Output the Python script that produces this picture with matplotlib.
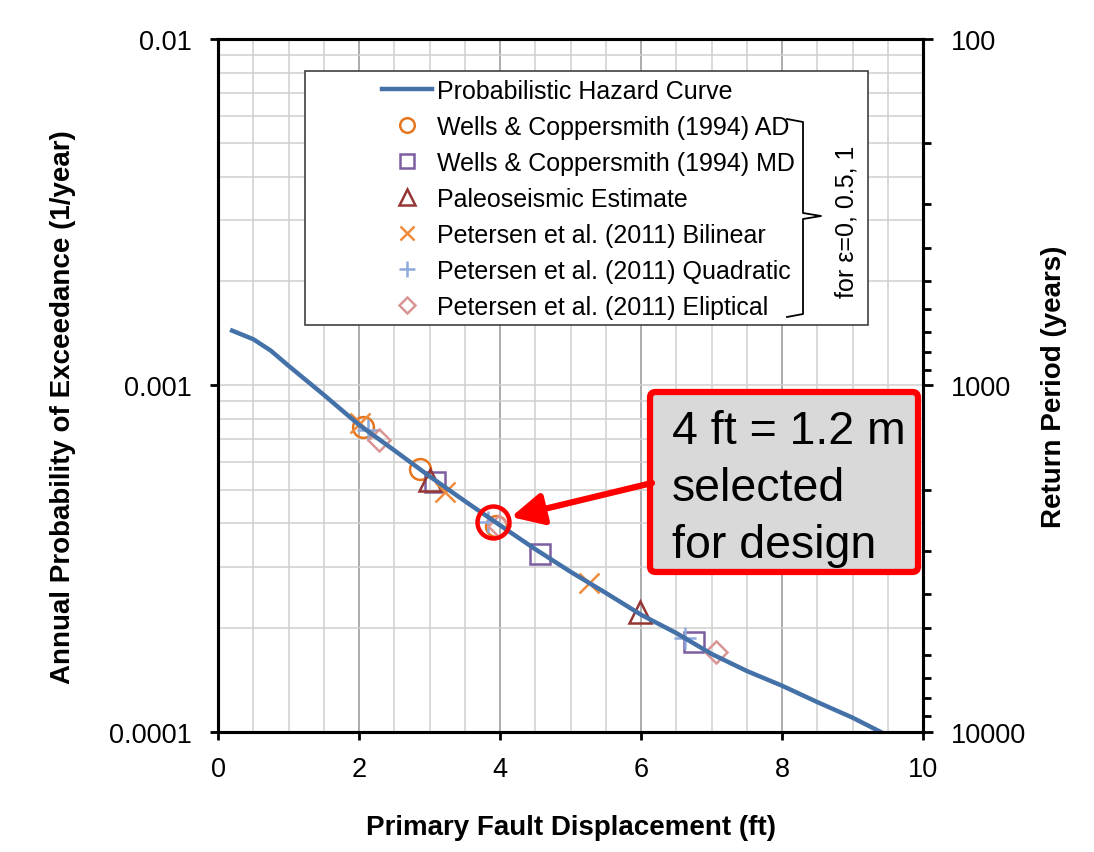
import numpy as np
import matplotlib
matplotlib.use("Agg")
import matplotlib.pyplot as plt
from matplotlib.patches import FancyBboxPatch, Rectangle
from matplotlib.lines import Line2D
from matplotlib.ticker import FixedLocator, FuncFormatter, NullFormatter

plt.rcParams['font.family'] = ['Liberation Sans', 'DejaVu Sans']

# --- hazard curve (displacement ft vs annual probability of exceedance) ---
curve_x = [0.2, 0.5, 0.75, 1.0, 1.5, 2.0, 2.5, 3.0, 3.5, 4.0, 4.5, 5.0, 5.5,
           6.0, 6.5, 7.0, 7.5, 8.0, 8.5, 9.0, 9.4]
curve_p = [0.00144, 0.00136, 0.00126, 0.00114, 0.00094, 0.00077, 0.00065,
           0.000547, 0.000464, 0.000395, 0.000337, 0.00029, 0.000252,
           0.000218, 0.000193, 0.000168, 0.00015, 0.000136, 0.000122,
           0.00011, 0.0001]

# --- point estimates (eps = 0, 0.5, 1) ---
wc_ad_x = [2.06, 2.86, 3.95]
wc_ad_p = [0.00076, 0.000573, 0.000394]
wc_md_x = [3.08, 4.57, 6.75]
wc_md_p = [0.000525, 0.000327, 0.000182]
paleo_x = [3.0, 5.98]
paleo_p = [0.000535, 0.000222]
bilin_x = [2.02, 3.22, 5.26]
bilin_p = [0.00078, 0.000494, 0.00027]
quad_x = [2.13, 3.83, 6.63]
quad_p = [0.000746, 0.000405, 0.000187]
ellip_x = [2.29, 3.98, 7.07]
ellip_p = [0.000698, 0.000392, 0.00017]

selected_x = 3.9
selected_p = 0.000405

fig = plt.figure(figsize=(10.94, 8.53), dpi=100)
ax = fig.add_axes([0.1993, 0.1407, 0.6444, 0.8124])

mk = dict(linestyle='none', mfc='none', mew=1.8, zorder=3)
ax.plot(wc_ad_x, wc_ad_p, marker='o', ms=15, mec='#E5761E',
        label='Wells & Coppersmith (1994) AD', **mk)
ax.plot(wc_md_x, wc_md_p, marker='s', ms=14, mec='#7B5FA0',
        label='Wells & Coppersmith (1994) MD', **mk)
ax.plot(paleo_x, paleo_p, marker='^', ms=16, mec='#963634',
        label='Paleoseismic Estimate', **mk)
ax.plot(bilin_x, bilin_p, marker='x', ms=15, mec='#F08C3C',
        label='Petersen et al. (2011) Bilinear', **mk)
ax.plot(quad_x, quad_p, marker='+', ms=16, mec='#8FAADC',
        label='Petersen et al. (2011) Quadratic', **mk)
ax.plot(ellip_x, ellip_p, marker='D', ms=11, mec='#D99694',
        label='Petersen et al. (2011) Eliptical', **mk)
ax.plot(curve_x, curve_p, color='#4472A8', lw=3.2, zorder=4,
        label='Probabilistic Hazard Curve')

# selected point highlight
ax.plot([selected_x], [selected_p], marker='o', ms=23, mfc='none',
        mec='#FF0000', mew=3.2, zorder=6)

ax.set_yscale('log')
ax.set_xlim(0, 10)
ax.set_ylim(0.0001, 0.01)

ax.set_xticks(np.arange(0, 11, 2))
ax.xaxis.set_minor_locator(FixedLocator(np.arange(0, 10.01, 0.5)))
ax.yaxis.set_major_locator(FixedLocator([0.0001, 0.001, 0.01]))
minor_y = [m * 10.0 ** e for e in (-4, -3) for m in range(2, 10)]
ax.yaxis.set_minor_locator(FixedLocator(minor_y))
ax.yaxis.set_major_formatter(FuncFormatter(lambda v, _: f'{v:g}'))
ax.yaxis.set_minor_formatter(NullFormatter())

ax.grid(True, which='major', axis='x', color='#a6a6a6', lw=1.3, zorder=0)
ax.grid(True, which='minor', axis='x', color='#cfcfcf', lw=1.1, zorder=0)
ax.grid(True, which='both', axis='y', color='#cfcfcf', lw=1.1, zorder=0)
ax.set_axisbelow(True)

for s in ax.spines.values():
    s.set_linewidth(2.2)
    s.set_color('black')

ax.tick_params(axis='x', which='major', direction='out', length=6, width=2,
               labelsize=19.5, pad=11)
ax.tick_params(axis='x', which='minor', length=0)
ax.tick_params(axis='y', which='major', direction='out', length=6, width=2,
               labelsize=19.5, pad=13)
ax.tick_params(axis='y', which='minor', length=0)

ax.set_xlabel('Primary Fault Displacement (ft)', fontsize=20,
              fontweight='bold', labelpad=23)
ax.set_ylabel('Annual Probability of Exceedance (1/year)', fontsize=20,
              fontweight='bold')
ax.yaxis.set_label_coords(-0.2014, 0.47)

# right axis: return period
ax2 = ax.twinx()
ax2.set_yscale('log')
ax2.set_ylim(10000, 100)
ax2.yaxis.set_major_locator(FixedLocator([100, 1000, 10000]))
minor_r = [m * 10.0 ** e for e in (2, 3) for m in range(2, 10)]
ax2.yaxis.set_minor_locator(FixedLocator(minor_r))
ax2.yaxis.set_major_formatter(FuncFormatter(lambda v, _: f'{v:.0f}'))
ax2.yaxis.set_minor_formatter(NullFormatter())
ax2.tick_params(axis='y', which='major', direction='out', length=7, width=2,
                labelsize=19.5, pad=13)
ax2.tick_params(axis='y', which='minor', direction='out', length=6, width=2)
for s in ax2.spines.values():
    s.set_linewidth(2.2)
ax2.set_ylabel('Return Period (years)', fontsize=20, fontweight='bold',
               rotation=90, labelpad=11)

# legend frame and legend
ax.add_patch(Rectangle((0.123, 0.587), 0.799, 0.367, transform=ax.transAxes,
                       fc='white', ec='#404040', lw=1.2, zorder=7))
handles, labels = ax.get_legend_handles_labels()
order = [6, 0, 1, 2, 3, 4, 5]
leg = ax.legend([handles[i] for i in order], [labels[i] for i in order],
                loc='upper left', bbox_to_anchor=(0.2326, 0.943),
                frameon=False, fontsize=18, handlelength=2.0,
                handletextpad=0.2, labelspacing=0.48, borderpad=0,
                borderaxespad=0, markerscale=0.7)
leg.set_zorder(8)

# bracket for the epsilon note
bx = lambda px: (px - 218) / 705
by = lambda py: (733 - py) / 693
br_x = [787, 803, 803, 821, 803, 803, 787]
br_y = [120, 123, 214, 217, 220, 315, 318]
ax.add_line(Line2D([bx(v) for v in br_x], [by(v) for v in br_y],
                   transform=ax.transAxes, color='black', lw=1.3, zorder=9))
ax.text(bx(846), by(222), 'for ε=0, 0.5, 1', transform=ax.transAxes,
        rotation=90, ha='center', va='center', fontsize=18, zorder=9)

# callout box and arrow
ax.add_patch(FancyBboxPatch((bx(650), by(573)), bx(918) - bx(650),
                            by(393) - by(573), transform=ax.transAxes,
                            boxstyle='round,pad=0,rounding_size=0.008',
                            fc='#d9d9d9', ec='#FF0000', lw=4.5, zorder=7))
ax.text(bx(672), by(410), '4 ft = 1.2 m\nselected\nfor design',
        transform=ax.transAxes, ha='left', va='top', fontsize=33.5,
        linespacing=1.38, zorder=8)
ax.annotate('', xy=(bx(511), by(518)), xytext=(bx(652), by(484)),
            xycoords='axes fraction', textcoords='axes fraction',
            arrowprops=dict(arrowstyle='-|>', color='#FF0000', lw=4.5,
                            mutation_scale=48, shrinkA=0, shrinkB=0),
            zorder=8)

fig.savefig('out.png', dpi=100)
